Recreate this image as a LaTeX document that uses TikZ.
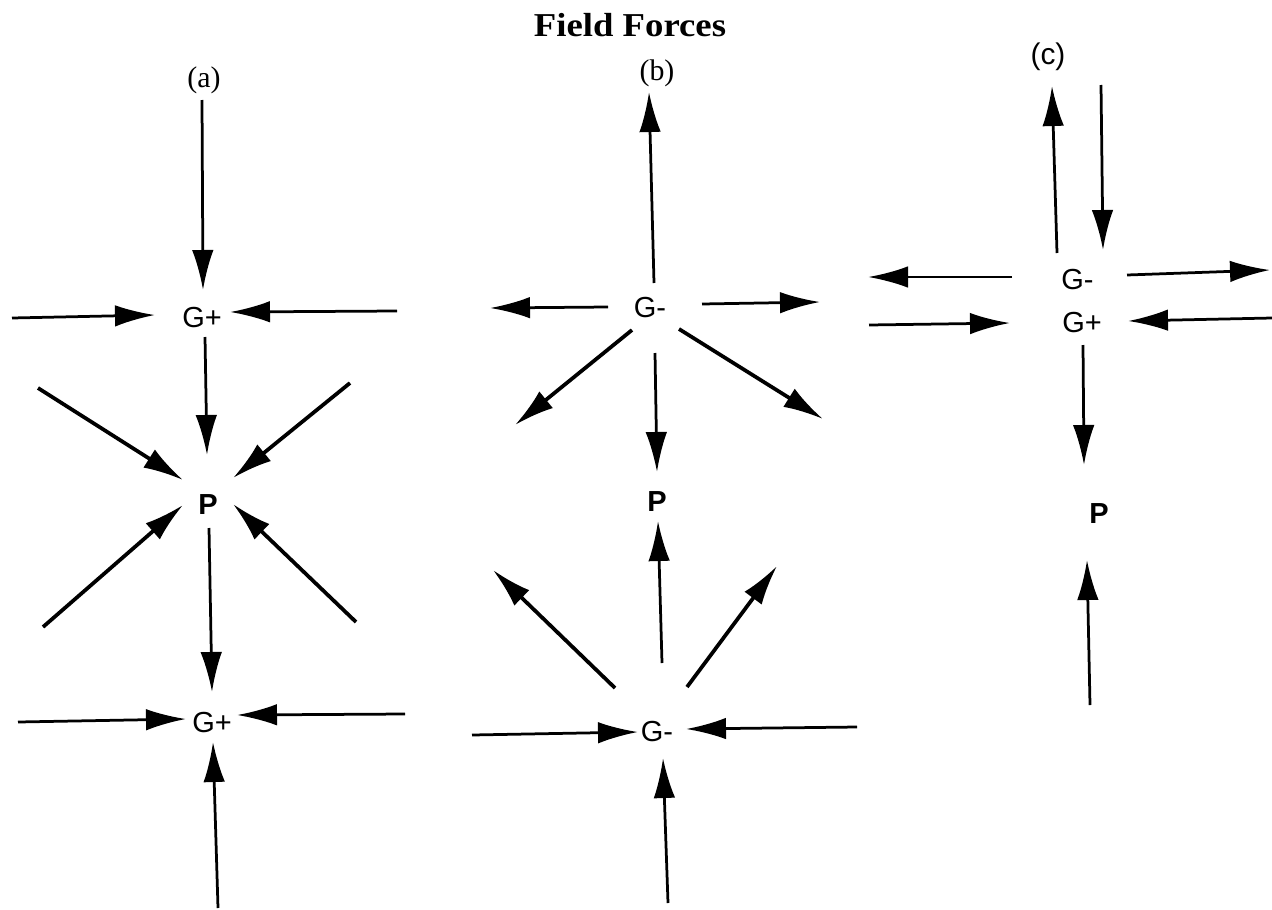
\documentclass[tikz,border=0pt]{standalone}
\usepackage{fontspec}
\setmainfont{Liberation Serif}
\setsansfont{Liberation Sans}
\usetikzlibrary{arrows.meta,calc}

\tikzset{
	force/.style={-{Latex[length=8mm,width=4.3mm]}, line width=0.55mm},
	heavy/.style={force, line width=0.75mm},
	charge/.style={inner sep=0pt, font=\sffamily\fontsize{16.5}{16.5}\selectfont},
	point/.style={inner sep=0pt, font=\sffamily\bfseries\fontsize{16.5}{16.5}\selectfont},
	tag/.style={inner sep=0pt, font=\fontsize{17}{17}\selectfont},
}

\begin{document}
\begin{tikzpicture}[x=0.2mm, y=-0.2mm]
	\useasboundingbox (0,0) rectangle (1272,909);
	\node[inner sep=0pt, font=\bfseries\fontsize{19}{19}\selectfont, xscale=1.1] (title) at (630,25) {Field Forces};

	% (a)
	\node[tag] (la) at (204,80) {(a)};
	\node[charge] (ga1) at (202,318) {G+};
	\node[point] (pa) at (208,505) {P};
	\node[charge] (ga2) at (212,723) {G+};
	\draw[force] ($(ga1)+(0,-218)$) -- ($(ga1)+(1,-28)$);
	\draw[force] ($(ga1)+(-190,0)$) -- ($(ga1)+(-47,-3)$);
	\draw[force] ($(ga1)+(195,-7)$) -- ($(ga1)+(28,-6)$);
	\draw[force] ($(ga1)+(3,19)$) -- ($(pa)+(-1,-50)$);
	\draw[heavy] ($(pa)+(-170,-117)$) -- ($(pa)+(-25,-25)$);
	\draw[heavy] ($(pa)+(142,-122)$) -- ($(pa)+(25,-27)$);
	\draw[heavy] ($(pa)+(-165,122)$) -- ($(pa)+(-25,0)$);
	\draw[heavy] ($(pa)+(148,117)$) -- ($(pa)+(25,-1)$);
	\draw[force] ($(pa)+(1,23)$) -- ($(ga2)+(0,-31)$);
	\draw[force] ($(ga2)+(-194,-1)$) -- ($(ga2)+(-26,-4)$);
	\draw[force] ($(ga2)+(193,-9)$) -- ($(ga2)+(25,-8)$);
	\draw[force] ($(ga2)+(6,185)$) -- ($(ga2)+(1,19)$);

	% (b)
	\node[tag] (lb) at (657,73) {(b)};
	\node[charge] (gb1) at (650,308) {G-};
	\node[point] (pb) at (657,502) {P};
	\node[charge] (gb2) at (657,732) {G-};
	\draw[force] ($(gb1)+(4,-25)$) -- ($(gb1)+(-1,-216)$);
	\draw[force] ($(gb1)+(-42,-1)$) -- ($(gb1)+(-160,0)$);
	\draw[force] ($(gb1)+(52,-4)$) -- ($(gb1)+(170,-6)$);
	\draw[heavy] ($(gb1)+(-18,22)$) -- ($(gb1)+(-135,117)$);
	\draw[heavy] ($(gb1)+(29,21)$) -- ($(gb1)+(173,111)$);
	\draw[force] ($(gb1)+(5,45)$) -- ($(pb)+(0,-30)$);
	\draw[force] ($(gb2)+(5,-69)$) -- ($(pb)+(1,19)$);
	\draw[heavy] ($(gb2)+(-42,-44)$) -- ($(gb2)+(-164,-162)$);
	\draw[heavy] ($(gb2)+(30,-45)$) -- ($(gb2)+(120,-166)$);
	\draw[force] ($(gb2)+(-185,3)$) -- ($(gb2)+(-19,0)$);
	\draw[force] ($(gb2)+(200,-5)$) -- ($(gb2)+(29,-3)$);
	\draw[force] ($(gb2)+(11,171)$) -- ($(gb2)+(6,26)$);

	% (c)
	\node[charge, font=\sffamily\fontsize{17}{17}\selectfont] (lc) at (1048,57) {(c)};
	\node[charge, anchor=west] (gc1) at (1061,280) {G-};
	\node[charge, anchor=west] (gc2) at (1062,323) {G+};
	\node[point] (pc) at (1099,514) {P};
	\draw[force] ($(gc1.west)+(-4,-27)$) -- ($(gc1.west)+(-9,-194)$);
	\draw[force] ($(gc1.west)+(40,-195)$) -- ($(gc1.west)+(42,-30)$);
	\draw[force] ($(gc1.west)+(-49,-3)$) -- ($(gc1.west)+(-193,-3)$);
	\draw[force] ($(gc1.west)+(66,-5)$) -- ($(gc1.west)+(209,-10)$);
	\draw[force] ($(gc2.west)+(-193,2)$) -- ($(gc2.west)+(-52,0)$);
	\draw[force] ($(gc2.west)+(210,-5)$) -- ($(gc2.west)+(66,-2)$);
	\draw[force] ($(gc2.west)+(21,22)$) -- ($(pc)+(-15,-49)$);
	\draw[force] ($(pc)+(-9,191)$) -- ($(pc)+(-12,46)$);
\end{tikzpicture}
\end{document}
